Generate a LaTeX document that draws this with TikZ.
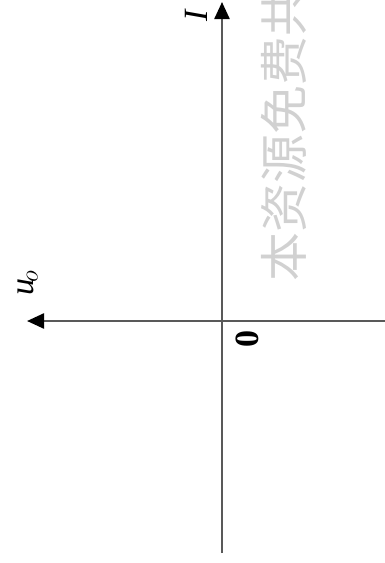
\documentclass[tikz,border=0pt]{standalone}
\usepackage{fontspec}
\setmainfont{Liberation Serif}
\newfontfamily\cjk{Noto Sans CJK SC}
\usetikzlibrary{arrows.meta}
\tikzset{
  axis/.style={line width=2.4pt, draw=black!65, -{Triangle[length=17pt,width=15pt,color=black]}},
  lbl/.style={rotate=90, inner sep=0pt, font=\fontsize{34}{34}\selectfont},
  wm/.style={rotate=90, inner sep=0pt, text=black!18, font=\cjk\fontsize{49}{49}\selectfont}
}
\begin{document}
\begin{tikzpicture}[x=1pt,y=-1pt]
\useasboundingbox (0,0) rectangle (385,563);
\clip (0,0) rectangle (385,563);
\node[wm, anchor=west] (wmark) at (284,282) {本资源免费共};
\coordinate (vb) at (222,553);
\coordinate (vt) at (222,2);
\coordinate (hr) at (385,321);
\coordinate (hl) at (27,321);
\draw[axis] (vb) -- (vt);
\draw[axis] (hr) -- (hl);
\node[lbl] (ilab) at (196,15) {\textit{I}};
\node[lbl] (zero) at (247,339) {\textbf{0}};
\node[lbl] (ulab) at (28,283) {\textit{u}$_{\!o}$};
\end{tikzpicture}
\end{document}
